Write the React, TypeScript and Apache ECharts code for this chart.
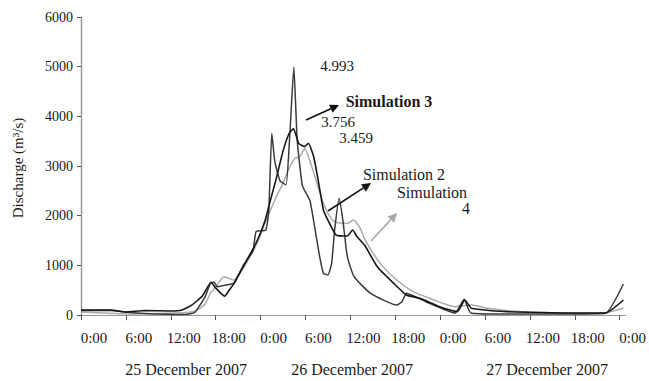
import React, { useEffect, useRef } from "react";
import * as echarts from "echarts";

// Time in hours from 25 December 2007 0:00
const sim3Hours = [0, 4, 5.8, 8.5, 14, 15.2, 16.6, 17.3, 17.8, 18.2, 19.2, 20.4, 21.7, 23.0, 23.4, 24.7, 25.1, 25.5, 25.9, 26.6, 27.4, 27.9, 28.45, 28.9, 29.6, 30.6, 31.3, 31.9, 32.4, 33.0, 33.5, 33.9, 34.5, 35.0, 35.6, 36.5, 38.7, 42.2, 42.9, 43.5, 46.1, 50.0, 51.2, 52.1, 56, 65, 70.1, 72.5];
const sim3Values = [90, 90, 60, 30, 10, 50, 370, 640, 660, 570, 600, 640, 1000, 1300, 1680, 1710, 2100, 3660, 3100, 2700, 2620, 3600, 4993, 3520, 2600, 2300, 1711, 1174, 839, 805, 1040, 1711, 2349, 1912, 1174, 771, 436, 201, 268, 436, 268, 40, 316, 40, 20, 20, 34, 624];

const sim2Hours = [0, 4, 6, 8.5, 12, 13.5, 14.8, 16.2, 17.4, 17.9, 19.2, 19.9, 20.5, 21.6, 23.4, 24.6, 25.3, 26.1, 27.0, 27.8, 28.4, 29.1, 29.9, 30.4, 31.1, 31.7, 32.4, 33.0, 34.1, 35.6, 36.3, 36.9, 37.9, 39.6, 41.8, 43.5, 45.3, 47.9, 50.3, 51.3, 52.2, 57, 70.1, 72.5];
const sim2Values = [100, 100, 60, 90, 80, 100, 200, 380, 660, 560, 380, 520, 640, 950, 1450, 1900, 2300, 2750, 3300, 3650, 3756, 3456, 3390, 3459, 3187, 2717, 2114, 1912, 1610, 1590, 1711, 1576, 1409, 973, 638, 403, 336, 168, 67, 302, 134, 67, 40, 302];

const sim4Hours = [0, 3, 6, 10, 14, 15.2, 16.5, 17.3, 18.2, 19.1, 20.4, 21.5, 23.4, 24.6, 26.1, 27.0, 27.8, 28.6, 29.3, 29.9, 30.7, 32.1, 33.0, 33.9, 35.6, 36.4, 37.2, 38.1, 40.0, 42.2, 44.4, 46.6, 50.0, 52.2, 54.4, 58.8, 69.6, 72.5];
const sim4Values = [60, 40, 20, 30, 50, 80, 200, 440, 604, 771, 704, 900, 1400, 1850, 2381, 2650, 2950, 3150, 3200, 3350, 3054, 2381, 2047, 1878, 1845, 1912, 1778, 1476, 1040, 704, 469, 336, 168, 201, 134, 67, 34, 134];

const xTickHours = [0, 6, 12, 18, 24, 30, 36, 42, 48, 54, 60, 66, 72];
const dayLabels = ["25 December 2007", "26 December 2007", "27 December 2007"];
const peakLabels = ["4.993", "3.756", "3.459"];
const seriesNames = ["Simulation 2", "Simulation 3", "Simulation 4"];

const FONT = "Liberation Serif";

function pairs(h: number[], v: number[]) {
  return h.map((x, i) => [x, v[i]]);
}

function arrow(x1: number, y1: number, x2: number, y2: number, color: string) {
  const dx = x2 - x1;
  const dy = y2 - y1;
  const len = Math.sqrt(dx * dx + dy * dy);
  const ux = dx / len;
  const uy = dy / len;
  const hl = 9;
  const hw = 4.5;
  const bx = x2 - hl * ux;
  const by = y2 - hl * uy;
  const nx = -uy;
  const ny = ux;
  return [
    {
      type: "line",
      shape: { x1, y1, x2: bx, y2: by },
      style: { stroke: color, lineWidth: 1.6 },
      z: 100,
    },
    {
      type: "polygon",
      shape: {
        points: [
          [x2, y2],
          [bx + hw * nx, by + hw * ny],
          [bx - hw * nx, by - hw * ny],
        ],
      },
      style: { fill: color },
      z: 100,
    },
  ];
}

function txt(text: string, x: number, y: number, size: number, bold = false, extra: any = {}) {
  return {
    type: "text",
    x,
    y,
    z: 100,
    style: {
      text,
      fontFamily: FONT,
      fontSize: size,
      fontWeight: bold ? "bold" : "normal",
      fill: "#1a1a1a",
      textAlign: "center",
      textVerticalAlign: "middle",
    },
    ...extra,
  };
}

export default function App() {
  const ref = useRef<HTMLDivElement>(null);
  useEffect(() => {
    if (!ref.current) return;
    const chart = echarts.init(ref.current, undefined, { renderer: "svg" });
    const xMax = 72.8;
    const option: any = {
      animation: false,
      backgroundColor: "#ffffff",
      textStyle: { fontFamily: FONT },
      grid: { left: 81, right: 12, top: 17, bottom: 66, containLabel: false },
      xAxis: [
        {
          type: "value",
          min: 0,
          max: xMax,
          interval: 6,
          axisLine: { show: true, lineStyle: { color: "#555", width: 1.2 } },
          axisTick: { show: true, length: 5, lineStyle: { color: "#555" }, customValues: xTickHours },
          splitLine: { show: false },
          axisLabel: {
            customValues: xTickHours,
            margin: 15,
            fontFamily: FONT,
            fontSize: 15,
            color: "#1a1a1a",
            padding: [0, 0, 0, 26],
            formatter: (v: number) => {
              const r = Math.round(v);
              if (Math.abs(v - r) > 0.01 || r % 6 !== 0) return "";
              return (r % 24) + ":00";
            },
          },
        },
        {
          type: "value",
          position: "top",
          min: 0,
          max: xMax,
          axisLine: { show: true, lineStyle: { color: "#999", width: 1.2 } },
          axisTick: { show: false },
          axisLabel: { show: false },
          splitLine: { show: false },
        },
      ],
      yAxis: [
        {
          type: "value",
          min: 0,
          max: 6000,
          interval: 1000,
          axisLine: { show: true, lineStyle: { color: "#555", width: 1.2 } },
          axisTick: { show: true, length: 4, lineStyle: { color: "#555" } },
          splitLine: { show: false },
          axisLabel: {
            margin: 8,
            fontFamily: FONT,
            fontSize: 14,
            color: "#1a1a1a",
            formatter: (v: number) => String(v),
          },
        },
        {
          type: "value",
          position: "right",
          min: 0,
          max: 6000,
          axisLine: { show: true, lineStyle: { color: "#999", width: 1.2 } },
          axisTick: { show: false },
          axisLabel: { show: false },
          splitLine: { show: false },
        },
      ],
      series: [
        {
          name: seriesNames[2],
          type: "line",
          data: pairs(sim4Hours, sim4Values),
          showSymbol: false,
          symbol: "none",
          smooth: 0.2,
          lineStyle: { color: "#aaaaaa", width: 1.5 },
          z: 2,
        },
        {
          name: seriesNames[1],
          type: "line",
          data: pairs(sim3Hours, sim3Values),
          showSymbol: false,
          symbol: "none",
          smooth: 0.15,
          lineStyle: { color: "#3a3a3a", width: 1.5 },
          z: 3,
        },
        {
          name: seriesNames[0],
          type: "line",
          data: pairs(sim2Hours, sim2Values),
          showSymbol: false,
          symbol: "none",
          smooth: 0.15,
          lineStyle: { color: "#161616", width: 1.6 },
          z: 4,
        },
      ],
      graphic: [
        txt("Discharge (m³/s)", 18, 168, 15, false, { rotation: Math.PI / 2 }),
        txt(dayLabels[0], 186, 369, 16),
        txt(dayLabels[1], 352, 369, 16),
        txt(dayLabels[2], 547, 369, 16),
        txt(peakLabels[0], 337, 66, 15),
        txt(peakLabels[1], 338, 122, 15),
        txt(peakLabels[2], 356, 138, 15),
        txt(seriesNames[1], 389, 101, 16, true),
        txt(seriesNames[0], 404, 174, 16),
        txt("Simulation", 432, 192, 16),
        txt("4", 466, 208, 16),
        ...arrow(306, 120, 339, 105, "#111"),
        ...arrow(328, 211, 371, 183, "#111"),
        ...arrow(371, 241, 397, 213, "#a8a8a8"),
      ],
    };
    chart.setOption(option);
    return () => chart.dispose();
  }, []);
  return (
    <div
      ref={ref}
      style={{ position: "fixed", left: 0, top: 0, width: 649, height: 381 }}
    />
  );
}
